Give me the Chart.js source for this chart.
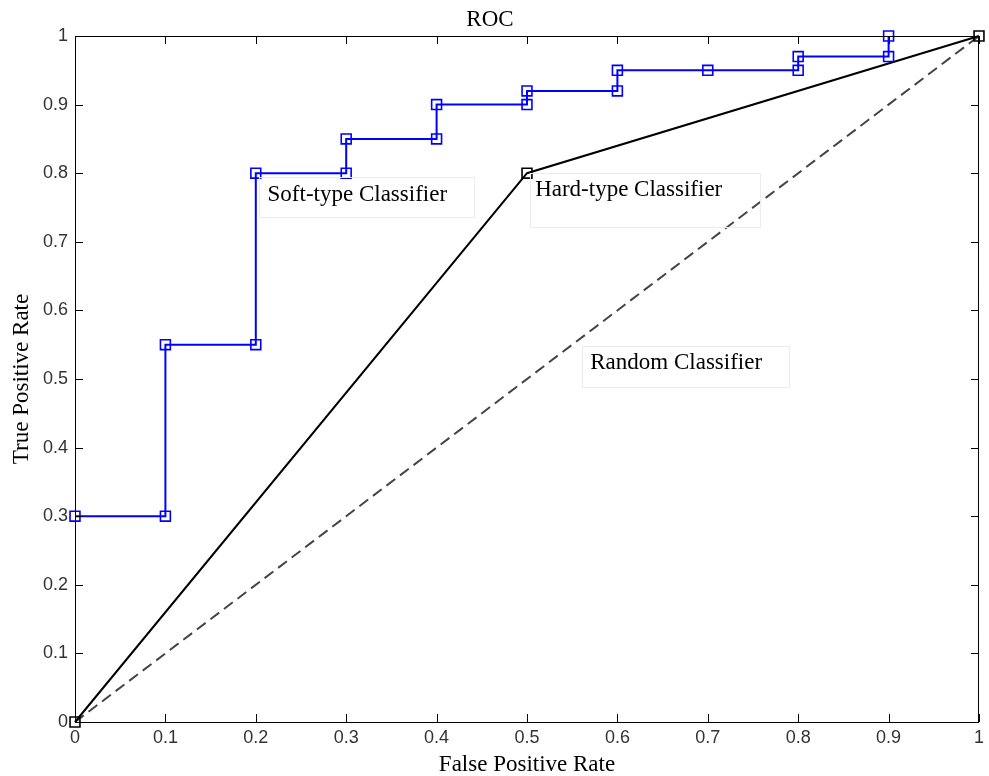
<!DOCTYPE html>
<html>
<head>
<meta charset="utf-8">
<script src="https://cdn.jsdelivr.net/npm/chart.js@4.4.1/dist/chart.umd.min.js"></script>
<style>
  html, body { margin: 0; padding: 0; background: #fff; }
  #wrap { width: 989px; height: 776px; }
</style>
</head>
<body>
<div id="wrap"><canvas id="roc"></canvas></div>
<script>
// ROC data
var softFpr = [0, 0.1, 0.1, 0.2, 0.2, 0.3, 0.3, 0.4, 0.4, 0.5, 0.5, 0.6, 0.6, 0.7, 0.8, 0.8, 0.9, 0.9];
var softTpr = [0.3, 0.3, 0.55, 0.55, 0.8, 0.8, 0.85, 0.85, 0.9, 0.9, 0.92, 0.92, 0.95, 0.95, 0.95, 0.97, 0.97, 1];
var hardFpr = [0, 0.5, 1];
var hardTpr = [0, 0.8, 1];
var randFpr = [0, 1];
var randTpr = [0, 1];
var tickLabels = ['0', '0.1', '0.2', '0.3', '0.4', '0.5', '0.6', '0.7', '0.8', '0.9', '1'];

// text notes (data coords: box x0,x1,yTop,yBottom and text start)
var notes = [
  { text: 'Soft-type Classifier', x: 0.213, y: 0.768, box: [0.204, 0.442, 0.794, 0.735] },
  { text: 'Hard-type Classifier', x: 0.509, y: 0.776, box: [0.503, 0.757, 0.800, 0.722] },
  { text: 'Random Classifier', x: 0.570, y: 0.523, box: [0.561, 0.790, 0.548, 0.488] }
];

function pairs(xs, ys) {
  return xs.map(function (x, i) { return { x: x, y: ys[i] }; });
}

var serif = '"Liberation Serif", "Times New Roman", serif';

// inward ticks on all four sides, box edges and the text notes
var matlabAxes = {
  id: 'matlabAxes',
  afterDatasetsDraw: function (chart) {
    var ctx = chart.ctx, a = chart.chartArea;
    var xs = chart.scales.x, ys = chart.scales.y;
    var len = 8;
    ctx.save();
    ctx.strokeStyle = '#000';
    ctx.lineWidth = 1;
    ctx.beginPath();
    ctx.moveTo(a.left, a.top + 0.5); ctx.lineTo(a.right, a.top + 0.5);
    ctx.moveTo(a.right - 0.5, a.top); ctx.lineTo(a.right - 0.5, a.bottom);
    tickLabels.forEach(function (t, i) {
      var v = i / 10;
      var px = Math.round(xs.getPixelForValue(v)) + 0.5;
      var py = Math.round(ys.getPixelForValue(v)) + 0.5;
      ctx.moveTo(px, a.bottom); ctx.lineTo(px, a.bottom - len);
      ctx.moveTo(px, a.top); ctx.lineTo(px, a.top + len);
      ctx.moveTo(a.left, py); ctx.lineTo(a.left + len, py);
      ctx.moveTo(a.right, py); ctx.lineTo(a.right - len, py);
    });
    ctx.stroke();

    ctx.font = '23px ' + serif;
    ctx.textBaseline = 'middle';
    ctx.textAlign = 'left';
    notes.forEach(function (n) {
      var x0 = xs.getPixelForValue(n.box[0]), x1 = xs.getPixelForValue(n.box[1]);
      var y0 = ys.getPixelForValue(n.box[2]), y1 = ys.getPixelForValue(n.box[3]);
      ctx.strokeStyle = '#ececec';
      ctx.strokeRect(Math.round(x0) + 0.5, Math.round(y0) + 0.5, Math.round(x1 - x0), Math.round(y1 - y0));
      ctx.fillStyle = '#000';
      ctx.fillText(n.text, xs.getPixelForValue(n.x), ys.getPixelForValue(n.y));
    });
    ctx.restore();
  }
};

var tickFont = { family: '"Liberation Sans Narrow", "Arial Narrow", "Liberation Sans", sans-serif', size: 18 };
var titleFont = { family: serif, size: 23, weight: 'normal', lineHeight: 1 };

new Chart(document.getElementById('roc'), {
  type: 'scatter',
  data: {
    datasets: [
      {
        label: 'Soft-type Classifier',
        data: pairs(softFpr, softTpr),
        showLine: true,
        borderColor: '#0000ff',
        borderWidth: 2,
        pointStyle: 'rect',
        pointRadius: 7,
        pointBorderWidth: 1.6,
        pointBorderColor: '#0000ff',
        pointBackgroundColor: 'rgba(0,0,0,0)',
        clip: false
      },
      {
        label: 'Hard-type Classifier',
        data: pairs(hardFpr, hardTpr),
        showLine: true,
        borderColor: '#000',
        borderWidth: 2,
        pointStyle: 'rect',
        pointRadius: 7,
        pointBorderWidth: 1.6,
        pointBorderColor: '#000',
        pointBackgroundColor: 'rgba(0,0,0,0)',
        clip: false
      },
      {
        label: 'Random Classifier',
        data: pairs(randFpr, randTpr),
        showLine: true,
        borderColor: '#444',
        borderWidth: 2,
        borderDash: [11, 6],
        pointRadius: 0,
        clip: false
      }
    ]
  },
  options: {
    responsive: true,
    maintainAspectRatio: false,
    animation: false,
    events: [],
    layout: { padding: { top: 0, right: 9, left: 0, bottom: 0 } },
    plugins: {
      legend: { display: false },
      tooltip: { enabled: false },
      title: {
        display: true,
        text: 'ROC',
        color: '#000',
        font: { family: serif, size: 23, weight: 'normal', lineHeight: 1.2 },
        padding: { top: 5.7, bottom: 2.7 }
      }
    },
    scales: {
      x: {
        type: 'linear',
        min: 0,
        max: 1,
        grid: { display: false, drawTicks: false },
        border: { display: true, color: '#000', width: 1 },
        ticks: {
          stepSize: 0.1,
          padding: 5,
          color: '#333',
          font: tickFont,
          maxRotation: 0,
          callback: function (v, i) { return tickLabels[i]; }
        },
        title: {
          display: true,
          text: 'False Positive Rate',
          color: '#000',
          font: titleFont,
          padding: { top: 0, bottom: 0 }
        },
        afterFit: function (s) { s.height = 54; }
      },
      y: {
        type: 'linear',
        min: 0,
        max: 1,
        grid: { display: false, drawTicks: false },
        border: { display: true, color: '#000', width: 1 },
        ticks: {
          stepSize: 0.1,
          padding: 7,
          color: '#333',
          font: tickFont,
          callback: function (v, i) { return tickLabels[i]; }
        },
        title: {
          display: true,
          text: 'True Positive Rate',
          color: '#000',
          font: titleFont,
          padding: { top: 10, bottom: 0 }
        },
        afterFit: function (s) { s.width = 75; }
      }
    }
  },
  plugins: [matlabAxes]
});
</script>
</body>
</html>
